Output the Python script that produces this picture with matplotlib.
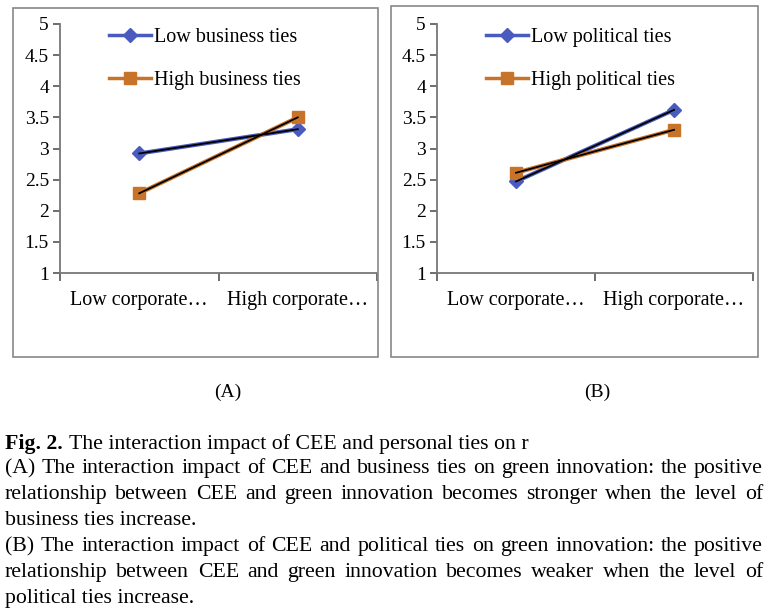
import matplotlib
matplotlib.use("Agg")
import matplotlib.pyplot as plt
from matplotlib.patches import Rectangle
from matplotlib.lines import Line2D

# data
categories = ["Low corporate\u2026", "High corporate\u2026"]
yticks = [1, 1.5, 2, 2.5, 3, 3.5, 4, 4.5, 5]
ytick_labels = ["1", "1.5", "2", "2.5", "3", "3.5", "4", "4.5", "5"]

low_business = [2.92, 3.31]
high_business = [2.28, 3.50]
low_political = [2.47, 3.62]
high_political = [2.61, 3.30]

labels_a = ["Low business ties", "High business ties"]
labels_b = ["Low political ties", "High political ties"]

panel_names = ["(A)", "(B)"]
caption_head = "Fig. 2."
caption_first = "The interaction impact of CEE and personal ties on r"
caption_lines = [
    ("(A) The interaction impact of CEE and business ties on green innovation: the positive", True),
    ("relationship between CEE and green innovation becomes stronger when the level of", True),
    ("business ties increase.", False),
    ("(B) The interaction impact of CEE and political ties on green innovation: the positive", True),
    ("relationship between CEE and green innovation becomes weaker when the level of", True),
    ("political ties increase.", False),
]

BLUE = "#4a5bbf"
ORANGE = "#c8732a"
SERIF = "Liberation Serif"

W, H = 766, 610
fig = plt.figure(figsize=(W / 100, H / 100), dpi=100)


def fx(px):
    return px / W


def fy(py):
    return 1 - py / H


def draw_panel(rect, low, high, labels):
    ax = fig.add_axes(rect)
    x = list(range(len(categories)))
    # coloured line under a thin black one, like the original
    ax.plot(x, low, color=BLUE, lw=3, marker="D", ms=7, mfc=BLUE, mec=BLUE, zorder=3)
    ax.plot(x, low, color="black", lw=1.3, zorder=4)
    ax.plot(x, high, color=ORANGE, lw=3, marker="s", ms=9, mfc=ORANGE, mec=ORANGE, zorder=3)
    ax.plot(x, high, color="black", lw=1.3, zorder=4)

    ax.set_xlim(-0.5, 1.5)
    ax.set_ylim(1, 5)
    ax.set_yticks(yticks)
    ax.set_yticklabels(ytick_labels, fontsize=14, family=SERIF)
    ax.set_xticks(x)
    ax.set_xticklabels(categories, fontsize=14.5, family=SERIF)
    ax.set_xticks([-0.5, 0.5, 1.5], minor=True)
    ax.tick_params(axis="x", which="major", length=0, pad=13)
    ax.tick_params(axis="x", which="minor", length=6, width=1.2, color="#555555", direction="out")
    ax.tick_params(axis="y", length=5, width=1.2, color="#555555", pad=3)
    for s in ["top", "right"]:
        ax.spines[s].set_visible(False)
    for s in ["left", "bottom"]:
        ax.spines[s].set_color("#777777")
        ax.spines[s].set_linewidth(1.3)

    handles = [
        Line2D([], [], color=BLUE, lw=2.5, marker="D", ms=7),
        Line2D([], [], color=ORANGE, lw=2.5, marker="s", ms=9),
    ]
    ax.legend(handles, labels, loc="upper left", bbox_to_anchor=(0.155, 0.985),
              borderaxespad=0, borderpad=0,
              frameon=False, prop={"family": SERIF, "size": 14.5},
              handlelength=2.1, handletextpad=0.15, labelspacing=1.22)
    return ax


# panel frames
fig.add_artist(Rectangle((fx(13), fy(357)), fx(378 - 13), (357 - 8) / H,
                         transform=fig.transFigure, fill=False, ec="#888888", lw=1.2))
fig.add_artist(Rectangle((fx(391), fy(357)), fx(758 - 391), (357 - 6) / H,
                         transform=fig.transFigure, fill=False, ec="#888888", lw=1.2))

draw_panel([fx(60), fy(273), fx(377 - 60), (273 - 24) / H], low_business, high_business, labels_a)
draw_panel([fx(437), fy(273), fx(753 - 437), (273 - 24) / H], low_political, high_political, labels_b)

fig.text(fx(228), fy(392), panel_names[0], ha="center", va="center", fontsize=14, family=SERIF)
fig.text(fx(597), fy(392), panel_names[1], ha="center", va="center", fontsize=14, family=SERIF)

# caption, justified by hand like the journal layout
cap_size = 15.7
left_px, right_px = 5, 763
base_off = 6  # baseline sits a little below the visual line centre
renderer = fig.canvas.get_renderer()

t = fig.text(fx(left_px), fy(443 + base_off), caption_head, ha="left", va="baseline",
             fontsize=cap_size, family=SERIF, weight="bold")
bb = t.get_window_extent(renderer)
fig.text(fx(bb.x1 + 6), fy(443 + base_off), caption_first, ha="left", va="baseline",
         fontsize=cap_size, family=SERIF)

line_y = [467, 493, 519, 545, 571, 597]
for (line, justify), yy in zip(caption_lines, line_y):
    yb = fy(yy + base_off)
    if not justify:
        fig.text(fx(left_px), yb, line, ha="left", va="baseline", fontsize=cap_size, family=SERIF)
        continue
    words = line.split(" ")
    widths = []
    for w in words:
        tmp = fig.text(0, 0, w, fontsize=cap_size, family=SERIF)
        widths.append(tmp.get_window_extent(renderer).width)
        tmp.remove()
    gap = (right_px - left_px - sum(widths)) / (len(words) - 1)
    xpos = left_px
    for w, wd in zip(words, widths):
        fig.text(fx(xpos), yb, w, ha="left", va="baseline", fontsize=cap_size, family=SERIF)
        xpos += wd + gap

fig.savefig("out.png", dpi=100)
